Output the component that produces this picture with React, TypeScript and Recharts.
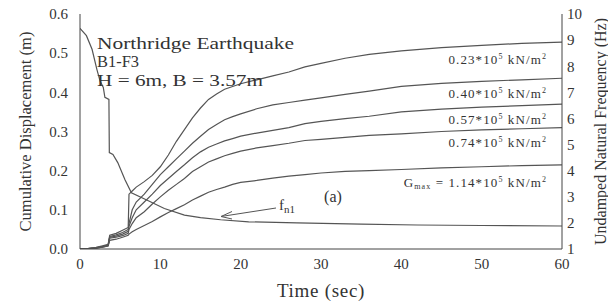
import { LineChart, Line, XAxis, YAxis } from "recharts";

// time axis shared by the displacement curves (sec)
const time = [0, 1, 2, 2.8, 3.5, 3.7, 4.5, 5.3, 6.0, 6.1, 6.5, 7, 8, 9, 10, 11, 12, 13, 14, 15, 16, 17, 18, 19, 20, 22, 24, 26, 28, 30, 33, 36, 40, 45, 50, 55, 60];

// cumulative displacement (m) for each Gmax
const g023 = [0, 0.001, 0.004, 0.008, 0.012, 0.035, 0.04, 0.048, 0.055, 0.14, 0.148, 0.158, 0.172, 0.188, 0.21, 0.24, 0.275, 0.305, 0.335, 0.36, 0.382, 0.396, 0.408, 0.415, 0.422, 0.432, 0.442, 0.452, 0.465, 0.474, 0.487, 0.497, 0.506, 0.514, 0.52, 0.525, 0.528];
const g040 = [0, 0.001, 0.003, 0.007, 0.01, 0.032, 0.036, 0.042, 0.05, 0.065, 0.1, 0.12, 0.14, 0.165, 0.19, 0.21, 0.23, 0.25, 0.27, 0.288, 0.305, 0.318, 0.33, 0.338, 0.345, 0.358, 0.368, 0.374, 0.38, 0.386, 0.395, 0.403, 0.415, 0.423, 0.428, 0.432, 0.436];
const g057 = [0, 0.001, 0.003, 0.006, 0.009, 0.03, 0.033, 0.038, 0.045, 0.058, 0.08, 0.1, 0.12, 0.14, 0.162, 0.18, 0.198, 0.215, 0.233, 0.248, 0.26, 0.268, 0.276, 0.282, 0.288, 0.296, 0.303, 0.31, 0.32, 0.326, 0.333, 0.339, 0.35, 0.357, 0.362, 0.366, 0.37];
const g074 = [0, 0.001, 0.002, 0.005, 0.008, 0.028, 0.03, 0.034, 0.04, 0.05, 0.065, 0.08, 0.095, 0.115, 0.133, 0.15, 0.165, 0.18, 0.198, 0.21, 0.222, 0.23, 0.238, 0.244, 0.25, 0.258, 0.264, 0.27, 0.277, 0.28, 0.285, 0.29, 0.294, 0.3, 0.304, 0.307, 0.31];
const g114 = [0, 0.001, 0.002, 0.005, 0.008, 0.022, 0.025, 0.03, 0.035, 0.038, 0.044, 0.05, 0.06, 0.07, 0.082, 0.093, 0.103, 0.113, 0.125, 0.135, 0.145, 0.152, 0.158, 0.165, 0.17, 0.175, 0.181, 0.186, 0.19, 0.194, 0.198, 0.2, 0.203, 0.207, 0.21, 0.213, 0.215];

// undamped natural frequency f_n1 (Hz)
const fTime = [0, 0.8, 1.5, 2.1, 2.5, 2.9, 3.1, 3.6, 3.65, 4.1, 4.7, 5.6, 6.4, 8.5, 10.5, 13, 15, 17.5, 21, 27, 35, 42, 50, 60];
const fn1 = [9.45, 9.17, 8.65, 7.88, 7.43, 7.19, 6.81, 6.73, 4.69, 4.62, 4.31, 3.65, 3.15, 2.85, 2.55, 2.3, 2.2, 2.12, 2.04, 2.0, 1.95, 1.92, 1.9, 1.88];

const xTicks = [0, 10, 20, 30, 40, 50, 60];
const leftTicks = [0, 0.1, 0.2, 0.3, 0.4, 0.5, 0.6];
const rightTicks = [1, 2, 3, 4, 5, 6, 7, 8, 9, 10];
const xMinor = Array.from({ length: 31 }, (_, i) => i * 2);
const leftMinor = Array.from({ length: 31 }, (_, i) => +(i * 0.02).toFixed(2));
const rightMinor = Array.from({ length: 46 }, (_, i) => +(1 + i * 0.2).toFixed(1));

const ink = "#444";
const lineCol = "#555";
const font = "Liberation Serif, Tinos, Times New Roman, serif";
const tickStyle = { fontSize: 15, fill: "#333", fontFamily: font };

const Sup = ({ children }: { children: string }) => (
  <tspan fontSize={8} dy={-5}>{children}</tspan>
);

function Gtext({ x, y, value, gmax }: { x: number; y: number; value: string; gmax?: boolean }) {
  return (
    <text x={x} y={y} textAnchor="end" fontSize={13} letterSpacing={1.1} fill="#333" fontFamily={font}>
      {gmax && <tspan>G</tspan>}
      {gmax && <tspan fontSize={8} dy={2}>max</tspan>}
      <tspan dy={gmax ? -2 : 0}>{gmax ? " = " : ""}{value}*10</tspan>
      <Sup>5</Sup>
      <tspan dy={5}> kN/m</tspan>
      <Sup>2</Sup>
    </text>
  );
}

export default function App() {
  const rows = time.map((t, i) => ({ t, g023: g023[i], g040: g040[i], g057: g057[i], g074: g074[i], g114: g114[i] }));
  const fRows = fTime.map((t, i) => ({ t, f: fn1[i] }));

  return (
    <div style={{ position: "absolute", left: 0, top: 0, width: 608, height: 303, background: "#fff", fontFamily: font }}>
      <LineChart width={608} height={303} data={rows} margin={{ top: 14, right: 0, bottom: 0, left: 0 }}>
        <XAxis
          xAxisId="x" dataKey="t" type="number" domain={[0, 60]} ticks={xTicks} allowDataOverflow
          height={54} tickLine={false} tickSize={0} tickMargin={9} axisLine={{ stroke: ink }} tick={tickStyle}
          label={{ value: "Time (sec)", position: "insideBottom", offset: 6, style: { fontSize: 19, letterSpacing: 0.7, fill: "#333", fontFamily: font } }}
        />
        {/* inward tick marks on bottom and top */}
        <XAxis xAxisId="xb1" type="number" domain={[0, 60]} ticks={xMinor} allowDataOverflow mirror height={0} tick={false} tickSize={4} axisLine={false} tickLine={{ stroke: ink }} />
        <XAxis xAxisId="xb2" type="number" domain={[0, 60]} ticks={xTicks} allowDataOverflow mirror height={0} tick={false} tickSize={8} axisLine={false} tickLine={{ stroke: ink }} />
        <XAxis xAxisId="xt1" orientation="top" type="number" domain={[0, 60]} ticks={xMinor} allowDataOverflow mirror height={0} tick={false} tickSize={4} axisLine={{ stroke: ink }} tickLine={{ stroke: ink }} />
        <XAxis xAxisId="xt2" orientation="top" type="number" domain={[0, 60]} ticks={xTicks} allowDataOverflow mirror height={0} tick={false} tickSize={8} axisLine={false} tickLine={{ stroke: ink }} />

        <YAxis
          yAxisId="left" type="number" domain={[0, 0.6]} ticks={leftTicks} allowDataOverflow width={80}
          tickLine={false} tickSize={0} tickMargin={12} axisLine={{ stroke: ink }} tick={tickStyle}
          tickFormatter={(v: number) => v.toFixed(1)}
          label={{ value: "Cumulative Displacement (m)", angle: -90, position: "insideLeft", offset: 25, style: { textAnchor: "middle", fontSize: 16.5, fill: "#333", fontFamily: font } }}
        />
        <YAxis yAxisId="l1" type="number" domain={[0, 0.6]} ticks={leftMinor} allowDataOverflow mirror width={0} tick={false} tickSize={4} axisLine={false} tickLine={{ stroke: ink }} />
        <YAxis yAxisId="l2" type="number" domain={[0, 0.6]} ticks={leftTicks} allowDataOverflow mirror width={0} tick={false} tickSize={8} axisLine={false} tickLine={{ stroke: ink }} />

        <YAxis
          yAxisId="right" orientation="right" type="number" domain={[1, 10]} ticks={rightTicks} allowDataOverflow width={46}
          tickLine={false} tickSize={0} tickMargin={5} axisLine={{ stroke: ink }} tick={tickStyle}
          label={{ value: "Undamped Natural Frequency (Hz)", angle: -90, position: "insideRight", offset: 8, style: { textAnchor: "middle", fontSize: 16, fill: "#333", fontFamily: font } }}
        />
        <YAxis yAxisId="r1" orientation="right" type="number" domain={[1, 10]} ticks={rightMinor} allowDataOverflow mirror width={0} tick={false} tickSize={4} axisLine={false} tickLine={{ stroke: ink }} />
        <YAxis yAxisId="r2" orientation="right" type="number" domain={[1, 10]} ticks={rightTicks} allowDataOverflow mirror width={0} tick={false} tickSize={8} axisLine={false} tickLine={{ stroke: ink }} />

        {["g023", "g040", "g057", "g074", "g114"].map((k) => (
          <Line key={k} xAxisId="x" yAxisId="left" dataKey={k} type="linear" stroke={lineCol} strokeWidth={1.2} dot={false} isAnimationActive={false} />
        ))}
        <Line xAxisId="x" yAxisId="right" data={fRows} dataKey="f" type="linear" stroke={lineCol} strokeWidth={1.2} dot={false} isAnimationActive={false} />
      </LineChart>

      <svg width={608} height={303} style={{ position: "absolute", left: 0, top: 0, pointerEvents: "none" }}>
        <g fontFamily={font} fill="#333">
          <text x={97} y={49} fontSize={17} textLength={197} lengthAdjust="spacingAndGlyphs">Northridge Earthquake</text>
          <text x={97} y={67} fontSize={17} textLength={42} lengthAdjust="spacingAndGlyphs">B1-F3</text>
          <text x={97} y={86} fontSize={17} textLength={166} lengthAdjust="spacingAndGlyphs">H = 6m, B = 3.57m</text>
          <text x={333} y={202} fontSize={16} textAnchor="middle">(a)</text>
          <text x={279} y={210} fontSize={15}>f<tspan fontSize={11} dy={3}>n1</tspan></text>
        </g>
        <Gtext x={547} y={64} value="0.23" />
        <Gtext x={547} y={98} value="0.40" />
        <Gtext x={547} y={124} value="0.57" />
        <Gtext x={547} y={147} value="0.74" />
        <Gtext x={547} y={187} value="1.14" gmax />
        <g stroke={lineCol} strokeWidth={1} fill="none">
          <line x1={276} y1={208} x2={221} y2={216.5} />
          <polyline points="232,211.5 221,216.5 232,219" />
        </g>
      </svg>
    </div>
  );
}
